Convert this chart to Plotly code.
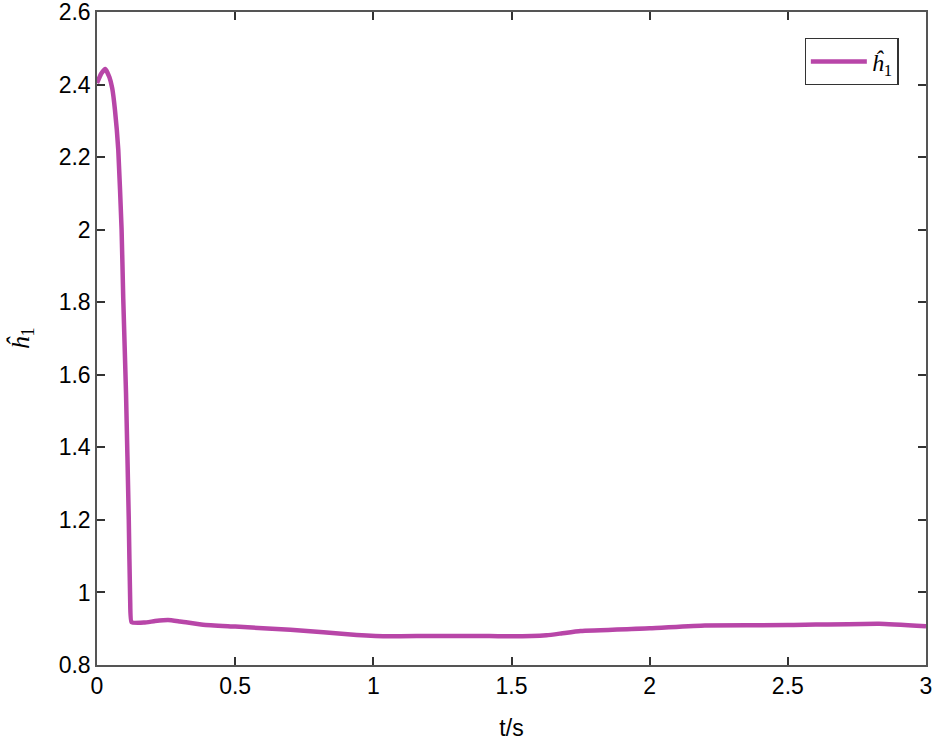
import plotly.graph_objects as go

t = [0, 0.015, 0.03, 0.045, 0.055, 0.065, 0.077, 0.089, 0.095, 0.105, 0.115, 0.12, 0.125,
     0.17, 0.21, 0.257, 0.3, 0.384, 0.5, 0.7, 0.94, 1.06, 1.2, 1.42, 1.5, 1.627, 1.68, 1.75,
     2.0, 2.2, 2.5, 2.83, 3.0]
h1 = [2.404, 2.43, 2.443, 2.42, 2.39, 2.33, 2.22, 2.0, 1.81, 1.55, 1.2, 0.98, 0.918,
      0.917, 0.921, 0.924, 0.92, 0.911, 0.906, 0.897, 0.883, 0.879, 0.880, 0.880, 0.879, 0.882, 0.887, 0.894,
      0.901, 0.909, 0.910, 0.914, 0.907]

x_ticks = [0, 0.5, 1, 1.5, 2, 2.5, 3]
x_ticklabels = ["0", "0.5", "1", "1.5", "2", "2.5", "3"]
y_ticks = [0.8, 1, 1.2, 1.4, 1.6, 1.8, 2, 2.2, 2.4, 2.6]
y_ticklabels = ["0.8", "1", "1.2", "1.4", "1.6", "1.8", "2", "2.2", "2.4", "2.6"]

label = "<i>ĥ</i><sub>1</sub>"

fig = go.Figure()
fig.add_trace(go.Scatter(x=t, y=h1, mode="lines", name=label,
                         line=dict(color="rgb(184,70,168)", width=4.5, shape="spline", smoothing=0.4)))

axis_common = dict(showgrid=False, zeroline=False, showline=True, linecolor="#555555", linewidth=1.5,
                   mirror="ticks", ticks="inside", ticklen=8, tickcolor="#333333", tickwidth=1.5,
                   automargin=False, ticklabeloverflow="allow",
                   tickfont=dict(family="Liberation Sans, Arial", size=23, color="black"))

fig.update_layout(
    width=938, height=752,
    margin=dict(l=97, r=12, t=12, b=87),
    paper_bgcolor="white", plot_bgcolor="white",
    xaxis=dict(range=[0, 3], tickvals=x_ticks, ticktext=x_ticklabels,
               title=dict(text="t/s", font=dict(family="Liberation Sans, Arial", size=23, color="black"), standoff=22),
               **axis_common),
    yaxis=dict(range=[0.8, 2.6], tickvals=y_ticks, ticktext=y_ticklabels,
               title=dict(text=label, font=dict(family="Liberation Serif, Times New Roman", size=26, color="black"), standoff=22),
               **axis_common),
    showlegend=True,
    legend=dict(x=0.967, y=0.960, xanchor="right", yanchor="top", bgcolor="white",
                bordercolor="#333333", borderwidth=1.2, itemwidth=56,
                font=dict(family="Liberation Serif, Times New Roman", size=24, color="black")),
)

# remove the default 8px page margin so the 938x752 figure fills the window exactly
fig.write_html("out.html", config={"displayModeBar": False},
               post_script="document.body.style.margin='0';document.body.style.overflow='hidden';")
